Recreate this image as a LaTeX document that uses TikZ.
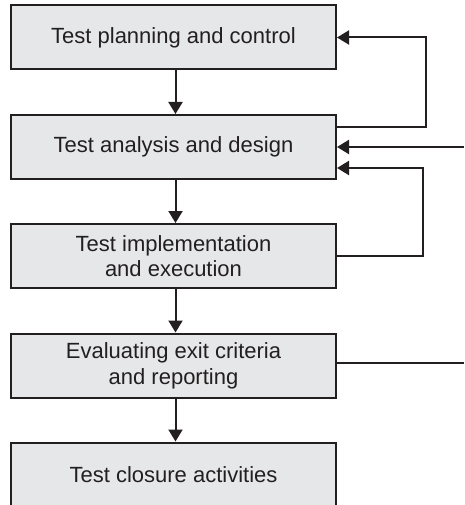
\documentclass[tikz,border=0pt]{standalone}
\usepackage{fontspec}
\setmainfont{Liberation Sans}
\usetikzlibrary{arrows.meta}
\definecolor{boxfill}{HTML}{E6E7E8}
\definecolor{ink}{HTML}{231F20}
\begin{document}
\begin{tikzpicture}[x=1pt,y=-1pt,
 stepbox/.style={draw=ink,fill=boxfill,line width=2pt,minimum width=325pt,minimum height=64pt,inner sep=0pt,align=center,font=\fontsize{22}{25.7}\selectfont,text=ink},
 conn/.style={draw=ink,line width=2pt,-{Triangle[width=14pt,length=12pt]}},
 plain/.style={draw=ink,line width=2pt}]
\useasboundingbox (0,0) rectangle (464,505);
\clip (0,0) rectangle (464,505);
\node[stepbox] (b1) at (173.5,37.5) {Test planning and control};
\node[stepbox] (b2) at (173.5,147) {Test analysis and design};
\node[stepbox] (b3) at (173.5,256) {Test implementation\\and execution};
\node[stepbox] (b4) at (173.5,365.5) {Evaluating exit criteria\\and reporting};
\node[stepbox] (b5) at (173.5,474.5) {Test closure activities};
\draw[conn] ([xshift=2pt]b1.south) -- ([xshift=2pt]b2.north);
\draw[conn] ([xshift=2pt]b2.south) -- ([xshift=2pt]b3.north);
\draw[conn] ([xshift=2pt]b3.south) -- ([xshift=2pt]b4.north);
\draw[conn] ([xshift=2pt]b4.south) -- ([xshift=2pt]b5.north);
\draw[conn] ([yshift=-13pt]b2.north east) -| ([xshift=89pt]b1.east) -- (b1.east);
\coordinate (in2) at (464,147);
\draw[conn] (in2) -- (b2.east);
\draw[conn] (b3.east) -| ([xshift=86pt,yshift=12pt]b2.south east) -- ([yshift=12pt]b2.south east);
\coordinate (out4) at (464,362.5);
\draw[plain] ([yshift=3pt]b4.east) -- (out4);
\end{tikzpicture}
\end{document}
